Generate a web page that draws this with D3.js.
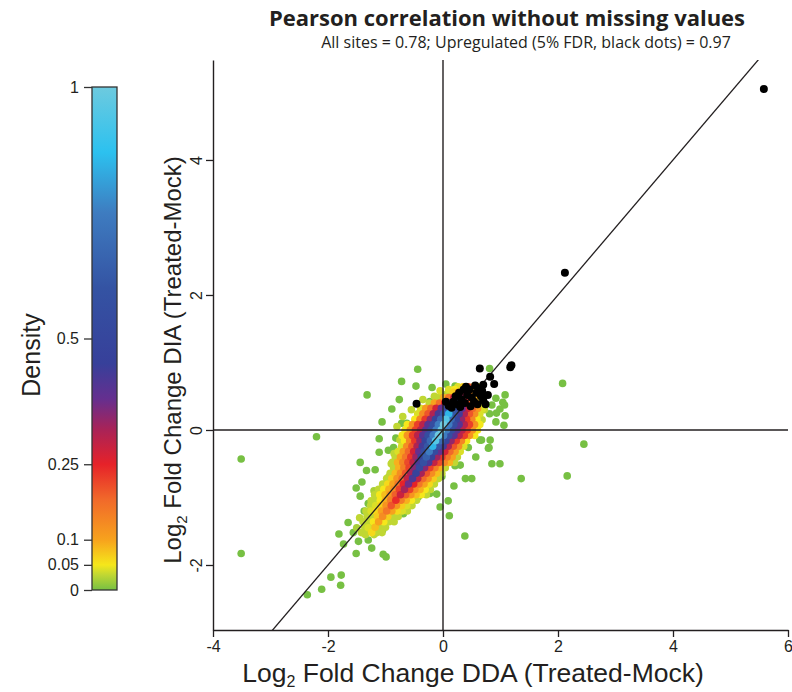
<!DOCTYPE html>
<html><head><meta charset="utf-8">
<script src="https://cdn.jsdelivr.net/npm/d3@7"></script>
<style>
html,body{margin:0;padding:0;background:#fff;}
svg{display:block;}
</style></head>
<body><svg id="chart" width="792" height="692"></svg>
<script>
// ---------- DATA ----------
const xTicks = [-4, -2, 0, 2, 4, 6];
const yTicks = [-2, 0, 2, 4];
const densityTicks = [0, 0.05, 0.1, 0.25, 0.5, 1];
const colorDomain = [0, 0.03, 0.05, 0.1, 0.18, 0.25, 0.32, 0.38, 0.45, 0.6, 0.75, 0.87, 1];
const colorRange = ["#77c043", "#c0d733", "#f5e71b", "#f7a21d", "#f1692a", "#e62229", "#a82358", "#652f8f", "#37409a", "#3453a3", "#3e7cc0", "#2cc1ef", "#6dcadf"];

const titleText = "Pearson correlation without missing values";
const subtitleText = "All sites = 0.78; Upregulated (5% FDR, black dots) = 0.97";

// sparse (low-density) sites: [x, y]
const greenDots = [
  [-3.51,-0.43],[-3.51,-1.83],[-2.2,-0.1],[2.08,0.69],[2.45,-0.21],[1.36,-0.72],[2.16,-0.68],
  [0.85,-0.50],[0.99,-0.50],[0.80,-0.26],[0.81,0.91],[1.08,0.52],[1.04,0.41],[0.92,0.47],[0.99,0.31],
  [1.08,0.21],[1.06,0.07],[0.92,0.12],[0.81,0.24],[0.85,0.37],[0.67,-0.15],
  [-0.44,0.90],[-0.72,0.72],[-0.47,0.65],[-0.19,0.63],[0.05,0.68],[0.21,0.65],[0.0,0.52],[-0.23,0.42],
  [1.07,0.37],[0.93,0.25],[0.82,-0.15],[0.64,-0.15],[0.79,-0.27],[0.57,-0.40],[-0.72,0.1],[-0.63,0.1],
  [-1.32,0.52],[-0.76,0.45],[-0.89,0.31],[-1.06,0.12],[-1.11,-0.13],[-0.82,-0.12],[-0.86,-0.26],
  [-1.11,-0.33],[-1.44,-0.48],[-1.33,-0.60],[-1.41,-0.77],[-1.51,-0.86],[-1.44,-0.98],[-1.30,-1.09],
  [-1.37,-1.20],[-1.65,-1.37],[-1.81,-1.54],[-1.56,-1.52],[-1.73,-1.69],[-1.51,-1.83],[-1.47,-1.65],
  [-1.30,-1.63],[-1.24,-1.75],[-1.04,-1.84],[-0.99,-1.88],[-1.78,-2.30],[-1.95,-2.18],[-1.77,-2.15],
  [-2.11,-2.36],[-2.36,-2.44],[0.38,-1.57],[0.09,-1.05],[0.11,-1.27],[-0.05,-1.14],[-0.02,-0.69],
  [0.19,-0.83],[0.39,-0.72],[0.50,-0.72],[-0.11,-0.95],[-0.23,-0.94],[-0.28,-0.91],[-0.43,-0.99],
  [-0.72,-1.14],[-0.69,-1.24],[-1.12,-1.12],[-1.05,-1.48],[-1.11,-1.43],[0.44,-0.26],[0.30,-0.52],
  [0.21,-0.53],[-1.18,-0.59],[-0.95,-0.30]
];

// fringe sites with slightly higher density: [x, y, density]
const fringeDots = [
  [-0.9,-0.5,0.03],[-0.95,-0.7,0.03],[-1.2,-0.9,0.02],[-1.25,-1.05,0.03],[-1.45,-1.3,0.03],
  [-1.5,-1.45,0.02],[-1.35,-1.55,0.03],[-1.3,-1.45,0.04],[-1.2,-1.55,0.03],[-0.5,-0.9,0.03],
  [-0.3,-0.7,0.03],[0.05,-0.5,0.03],[0.15,-0.35,0.03],[0.35,-0.2,0.03],[0.55,0.0,0.03],
  [0.68,0.15,0.03],[0.72,0.3,0.03],[-0.15,0.5,0.03],[-0.35,0.45,0.03],[-0.55,0.3,0.03],
  [-0.7,0.2,0.03],[-0.8,0.05,0.03],[-0.75,-0.15,0.03],[-0.85,-0.35,0.03],[0.1,0.6,0.04],
  [0.2,0.6,0.05],[-0.05,0.58,0.04]
];

// dense core, row by row: y, x values, densities
const coreRows = [
  {y:0.64, x:[0.26,0.35,0.44,0.53,0.62], d:[0.04,0.07,0.2,0.07,0.04]},
  {y:0.56, x:[0.09,0.18,0.27,0.36,0.45,0.54,0.63], d:[0.03,0.07,0.15,0.3,0.15,0.07,0.03]},
  {y:0.48, x:[-0.08,0.01,0.10,0.19,0.28,0.37,0.46,0.55,0.64], d:[0.03,0.09,0.16,0.28,0.45,0.28,0.16,0.09,0.03]},
  {y:0.40, x:[-0.24,-0.15,-0.06,0.03,0.12,0.21,0.30,0.39,0.48,0.57,0.66], d:[0.03,0.1,0.17,0.25,0.41,0.6,0.41,0.25,0.17,0.1,0.03]},
  {y:0.32, x:[-0.39,-0.30,-0.21,-0.12,-0.03,0.06,0.15,0.24,0.33,0.42,0.51,0.60,0.69], d:[0.04,0.11,0.18,0.27,0.38,0.54,0.75,0.54,0.38,0.27,0.18,0.11,0.04]},
  {y:0.24, x:[-0.44,-0.35,-0.26,-0.17,-0.08,0.01,0.10,0.19,0.28,0.37,0.46,0.55,0.64], d:[0.04,0.13,0.2,0.31,0.43,0.61,0.85,0.61,0.43,0.31,0.2,0.13,0.04]},
  {y:0.16, x:[-0.49,-0.40,-0.31,-0.22,-0.13,-0.04,0.05,0.14,0.23,0.32,0.41,0.50,0.59], d:[0.05,0.14,0.23,0.34,0.48,0.68,0.95,0.68,0.48,0.34,0.23,0.14,0.05]},
  {y:0.08, x:[-0.62,-0.53,-0.44,-0.35,-0.26,-0.17,-0.08,0.01,0.10,0.19,0.28,0.37,0.46,0.55,0.64], d:[0.05,0.12,0.22,0.3,0.4,0.55,0.75,1,0.75,0.55,0.4,0.3,0.22,0.12,0.05]},
  {y:0.00, x:[-0.66,-0.57,-0.48,-0.39,-0.30,-0.21,-0.12,-0.03,0.06,0.15,0.24,0.33,0.42,0.51,0.60], d:[0.05,0.12,0.22,0.3,0.4,0.55,0.75,1,0.75,0.55,0.4,0.3,0.22,0.12,0.05]},
  {y:-0.08, x:[-0.71,-0.62,-0.53,-0.44,-0.35,-0.26,-0.17,-0.08,0.01,0.10,0.19,0.28,0.37,0.46,0.55], d:[0.05,0.12,0.22,0.3,0.4,0.55,0.75,1,0.75,0.55,0.4,0.3,0.22,0.12,0.05]},
  {y:-0.16, x:[-0.67,-0.58,-0.49,-0.40,-0.31,-0.22,-0.13,-0.04,0.05,0.14,0.23,0.32,0.41], d:[0.05,0.14,0.23,0.34,0.48,0.68,0.95,0.68,0.48,0.34,0.23,0.14,0.05]},
  {y:-0.24, x:[-0.72,-0.63,-0.54,-0.45,-0.36,-0.27,-0.18,-0.09,0.00,0.09,0.18,0.27,0.36], d:[0.04,0.13,0.2,0.31,0.43,0.61,0.85,0.61,0.43,0.31,0.2,0.13,0.04]},
  {y:-0.32, x:[-0.78,-0.69,-0.60,-0.51,-0.42,-0.33,-0.24,-0.15,-0.06,0.03,0.12,0.21,0.30], d:[0.04,0.11,0.18,0.27,0.38,0.54,0.75,0.54,0.38,0.27,0.18,0.11,0.04]},
  {y:-0.40, x:[-0.83,-0.74,-0.65,-0.56,-0.47,-0.38,-0.29,-0.20,-0.11,-0.02,0.07,0.16,0.25], d:[0.03,0.1,0.16,0.23,0.33,0.47,0.65,0.47,0.33,0.23,0.16,0.1,0.03]},
  {y:-0.48, x:[-0.88,-0.79,-0.70,-0.61,-0.52,-0.43,-0.34,-0.25,-0.16,-0.07,0.02,0.11,0.20], d:[0.03,0.09,0.14,0.21,0.29,0.42,0.58,0.42,0.29,0.21,0.14,0.09,0.03]},
  {y:-0.56, x:[-0.86,-0.77,-0.68,-0.59,-0.50,-0.41,-0.32,-0.23,-0.14,-0.05,0.04], d:[0.03,0.09,0.15,0.22,0.35,0.52,0.35,0.22,0.15,0.09,0.03]},
  {y:-0.64, x:[-0.92,-0.83,-0.74,-0.65,-0.56,-0.47,-0.38,-0.29,-0.20,-0.11,-0.02], d:[0.03,0.08,0.13,0.2,0.32,0.47,0.32,0.2,0.13,0.08,0.03]},
  {y:-0.72, x:[-0.98,-0.89,-0.80,-0.71,-0.62,-0.53,-0.44,-0.35,-0.26,-0.17,-0.08], d:[0.03,0.07,0.12,0.18,0.29,0.42,0.29,0.18,0.12,0.07,0.03]},
  {y:-0.80, x:[-1.05,-0.96,-0.87,-0.78,-0.69,-0.60,-0.51,-0.42,-0.33,-0.24,-0.15], d:[0.03,0.06,0.1,0.16,0.25,0.37,0.25,0.16,0.1,0.06,0.03]},
  {y:-0.88, x:[-1.12,-1.03,-0.94,-0.85,-0.76,-0.67,-0.58,-0.49,-0.40,-0.31,-0.22], d:[0.03,0.05,0.09,0.13,0.22,0.32,0.22,0.13,0.09,0.05,0.03]},
  {y:-0.96, x:[-1.19,-1.10,-1.01,-0.92,-0.83,-0.74,-0.65,-0.56,-0.47,-0.38,-0.29], d:[0.03,0.05,0.08,0.12,0.19,0.28,0.19,0.12,0.08,0.05,0.03]},
  {y:-1.04, x:[-1.18,-1.09,-1.00,-0.91,-0.82,-0.73,-0.64,-0.55,-0.46], d:[0.03,0.05,0.09,0.15,0.24,0.15,0.09,0.05,0.03]},
  {y:-1.12, x:[-1.26,-1.17,-1.08,-0.99,-0.90,-0.81,-0.72,-0.63,-0.54], d:[0.03,0.04,0.07,0.12,0.2,0.12,0.07,0.04,0.03]},
  {y:-1.20, x:[-1.34,-1.25,-1.16,-1.07,-0.98,-0.89,-0.80,-0.71,-0.62], d:[0.03,0.04,0.06,0.1,0.16,0.1,0.06,0.04,0.03]},
  {y:-1.28, x:[-1.32,-1.23,-1.14,-1.05,-0.96,-0.87,-0.78], d:[0.03,0.03,0.07,0.13,0.07,0.03,0.03]},
  {y:-1.36, x:[-1.39,-1.30,-1.21,-1.12,-1.03,-0.94,-0.85], d:[0.03,0.03,0.05,0.1,0.05,0.03,0.03]},
  {y:-1.44, x:[-1.36,-1.27,-1.18,-1.09,-1.00], d:[0.03,0.03,0.08,0.03,0.03]},
  {y:-1.52, x:[-1.42,-1.33,-1.24,-1.15,-1.06], d:[0.03,0.03,0.06,0.03,0.03]}
];

// upregulated sites (5% FDR)
const blackDots = [
  [0.10,0.36],[0.18,0.42],[0.22,0.50],[0.28,0.55],[0.32,0.45],[0.38,0.40],[0.42,0.52],[0.46,0.60],
  [0.50,0.48],[0.54,0.42],[0.58,0.55],[0.62,0.62],[0.66,0.50],[0.70,0.44],[0.74,0.38],[0.78,0.52],
  [0.60,0.38],[0.36,0.60],[0.25,0.38],[0.48,0.35],[0.68,0.58],[0.56,0.66],[0.40,0.64],[0.15,0.33],
  [0.30,0.34],[0.64,0.91],[1.19,0.96],[1.17,0.93],[0.82,0.79],[0.89,0.68],[0.70,0.67],[-0.46,0.39],
  [0.05,0.42],[2.12,2.33],[5.58,5.05]
];

// identity line y = slope * x + intercept
const fitSlope = 1, fitIntercept = 0;

// ---------- DRAW ----------
const svg = d3.select("#chart");
svg.append("rect").attr("width",792).attr("height",692).attr("fill","#fff");

const x = d3.scaleLinear().domain([-4, 6]).range([213, 788]);
const y = d3.scaleLinear().domain([-2.963, 5.481]).range([630, 60]);
const color = d3.scaleLinear().domain(colorDomain).range(colorRange).clamp(true);

const ink = "#231f20";
const axisFont = "'Liberation Sans', Arial, sans-serif";

svg.append("defs").append("clipPath").attr("id","plotclip")
  .append("rect").attr("x", x(-4)).attr("y", y.range()[1]).attr("width", x(6)-x(-4)).attr("height", y.range()[0]-y.range()[1]);

// points
const pts = [];
greenDots.forEach(p => pts.push({x:p[0], y:p[1], d:0}));
fringeDots.forEach(p => pts.push({x:p[0], y:p[1], d:p[2]}));
coreRows.forEach(r => r.x.forEach((xv,i) => pts.push({x:xv, y:r.y, d:r.d[i]})));
pts.sort((a,b) => a.d - b.d);

const gPts = svg.append("g");
gPts.selectAll("circle.pt").data(pts).join("circle").attr("class","pt")
  .attr("cx", d => x(d.x)).attr("cy", d => y(d.y)).attr("r", 3.8)
  .attr("fill", d => color(d.d));

// reference lines
const gLines = svg.append("g").attr("clip-path","url(#plotclip)");
gLines.append("line").attr("x1", x(-4)).attr("x2", x(6)).attr("y1", y(0)).attr("y2", y(0))
  .attr("stroke", ink).attr("stroke-width", 1.4);
gLines.append("line").attr("x1", x(0)).attr("x2", x(0)).attr("y1", y.range()[0]).attr("y2", y.range()[1])
  .attr("stroke", ink).attr("stroke-width", 1.4);
gLines.append("line")
  .attr("x1", x(-4)).attr("y1", y(fitSlope*-4 + fitIntercept))
  .attr("x2", x(6)).attr("y2", y(fitSlope*6 + fitIntercept))
  .attr("stroke", ink).attr("stroke-width", 1.3);

// black dots
svg.append("g").selectAll("circle").data(blackDots).join("circle")
  .attr("cx", d => x(d[0])).attr("cy", d => y(d[1])).attr("r", 4).attr("fill", "#000");

// axes
const xAxis = svg.append("g").attr("transform", `translate(0,${y.range()[0]})`)
  .call(d3.axisBottom(x).tickValues(xTicks).tickSize(7).tickSizeOuter(0).tickPadding(4).tickFormat(d3.format("d")));
const yAxis = svg.append("g").attr("transform", `translate(${x(-4)},0)`)
  .call(d3.axisLeft(y).tickValues(yTicks).tickSize(7).tickSizeOuter(0).tickFormat(d3.format("d")));
[xAxis, yAxis].forEach(g => {
  g.select(".domain").attr("stroke", ink).attr("stroke-width", 1.4);
  g.selectAll(".tick line").attr("stroke", ink).attr("stroke-width", 1.3);
  g.selectAll("text").attr("font-family", axisFont).attr("font-size", 16).attr("fill", ink);
});
xAxis.selectAll("text").text(d => d < 0 ? "-" + Math.abs(d) : d);
yAxis.selectAll("text").text(d => d < 0 ? "-" + Math.abs(d) : d)
  .attr("x", null).attr("dy", null)
  .attr("transform", "translate(-11,0) rotate(-90)")
  .attr("text-anchor", "middle");

// axis titles
const xt = svg.append("text").attr("x", 473).attr("y", 682).attr("text-anchor","middle")
  .attr("font-family", axisFont).attr("font-size", 26.5).attr("fill", ink);
xt.append("tspan").text("Log");
xt.append("tspan").attr("font-size", 16).attr("dy", 5).text("2");
xt.append("tspan").attr("dy", -5).text(" Fold Change DDA (Treated-Mock)");

const yt = svg.append("text").attr("transform", "translate(181,360) rotate(-90)").attr("text-anchor","middle")
  .attr("font-family", axisFont).attr("font-size", 24).attr("fill", ink);
yt.append("tspan").text("Log");
yt.append("tspan").attr("font-size", 15).attr("dy", 6).text("2");
yt.append("tspan").attr("dy", -6).text(" Fold Change DIA (Treated-Mock)");

// titles
svg.append("text").attr("x", 507).attr("y", 26).attr("text-anchor","middle")
  .attr("font-family","'Open Sans', sans-serif").attr("font-weight",700).attr("font-size",22).attr("fill", ink)
  .text(titleText);
svg.append("text").attr("x", 526).attr("y", 48).attr("text-anchor","middle")
  .attr("font-family","'Open Sans', sans-serif").attr("font-size",16).attr("fill", ink)
  .text(subtitleText);

// colour bar
const cb = d3.scaleLinear().domain([0, 1]).range([590, 87]);
const grad = svg.select("defs").append("linearGradient").attr("id","cbgrad")
  .attr("x1","0").attr("y1","1").attr("x2","0").attr("y2","0");
colorDomain.forEach((v,i) => grad.append("stop").attr("offset", v).attr("stop-color", colorRange[i]));
svg.append("rect").attr("x", 92).attr("y", cb(1)).attr("width", 25).attr("height", cb(0)-cb(1))
  .attr("fill","url(#cbgrad)").attr("stroke","#333").attr("stroke-width",1.3);
const cbAxis = svg.append("g").attr("transform","translate(92,0)")
  .call(d3.axisLeft(cb).tickValues(densityTicks).tickSize(8).tickPadding(5)
    .tickFormat(d => d === 0 ? "0" : d === 1 ? "1" : String(d)));
cbAxis.select(".domain").remove();
cbAxis.selectAll(".tick line").attr("stroke","#333").attr("stroke-width",1.3);
cbAxis.selectAll("text").attr("font-family", axisFont).attr("font-size", 16).attr("fill", ink);

svg.append("text").attr("transform","translate(40,355) rotate(-90)").attr("text-anchor","middle")
  .attr("font-family", axisFont).attr("font-size", 25).attr("fill", ink).text("Density");
</script></body></html>
